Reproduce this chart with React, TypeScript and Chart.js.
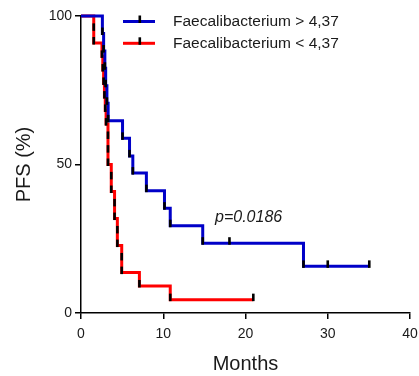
import React, { useEffect, useRef } from "react";
import { Chart, registerables } from "chart.js";

Chart.register(...registerables);

// Kaplan-Meier step data (months, PFS %)
const blueLabel = "Faecalibacterium > 4,37";
const blueTimes = [0, 2.6, 2.75, 2.9, 3.0, 3.15, 3.3, 5.05, 5.9, 6.3, 7.95, 10.15, 10.85, 14.8, 18.05, 27.05, 30.0, 35.05];
const blueSurv = [100, 94.1, 88.2, 82.4, 76.5, 70.6, 64.7, 58.8, 52.9, 47.1, 41.2, 35.3, 29.4, 23.5, 23.5, 15.7, 15.7, 15.7];

const redLabel = "Faecalibacterium < 4,37";
const redTimes = [0, 1.55, 1.55, 2.55, 2.65, 2.75, 2.85, 2.95, 3.05, 3.28, 3.28, 3.28, 3.68, 3.68, 4.08, 4.08, 4.42, 4.42, 4.95, 4.95, 7.1, 10.85, 20.95];
const redSurv = [100, 95.5, 90.9, 86.4, 81.8, 77.3, 72.7, 68.2, 63.6, 59.1, 54.5, 50.0, 45.5, 40.9, 36.4, 31.8, 27.3, 22.7, 18.2, 13.6, 9.1, 4.5, 4.5];

const xTicks = [0, 10, 20, 30, 40];
const yTicks = [0, 50, 100];
const pValueText = "p=0.0186";
const xTitle = "Months";
const yTitle = "PFS (%)";

const BLUE = "#0000c8";
const RED = "#ff0000";
const TEXT = "#1a1a1a";
const FONT = "'Liberation Sans', Arial, sans-serif";

const toPoints = (t: number[], s: number[]) => t.map((x, i) => ({ x, y: s[i] }));

const overlayPlugin = {
  id: "kmOverlay",
  afterDatasetsDraw(chart: any) {
    const ctx = chart.ctx;
    ctx.save();
    // tick marks at each event/censor point
    ctx.fillStyle = "#000";
    chart.data.datasets.forEach((_: any, di: number) => {
      const meta = chart.getDatasetMeta(di);
      meta.data.forEach((pt: any, i: number) => {
        if (i === 0) return;
        ctx.fillRect(pt.x - 1.3, pt.y - 6, 2.6, 7.5);
      });
    });
    // legend
    const items = [
      { label: blueLabel, color: BLUE, y: 21.5 },
      { label: redLabel, color: RED, y: 43.3 },
    ];
    items.forEach((it) => {
      ctx.strokeStyle = it.color;
      ctx.lineWidth = 3;
      ctx.beginPath();
      ctx.moveTo(123, it.y);
      ctx.lineTo(155, it.y);
      ctx.stroke();
      ctx.fillStyle = "#000";
      ctx.fillRect(138.5, it.y - 6, 2.6, 7.5);
      ctx.fillStyle = TEXT;
      ctx.font = `15.5px ${FONT}`;
      ctx.textBaseline = "middle";
      ctx.textAlign = "left";
      ctx.fillText(it.label, 173, it.y + 0.3);
    });
    // p-value
    ctx.font = `italic 16px ${FONT}`;
    ctx.fillStyle = TEXT;
    ctx.textBaseline = "middle";
    ctx.fillText(pValueText, 215, 218);
    ctx.restore();
  },
};

export default function App() {
  const ref = useRef<HTMLCanvasElement | null>(null);
  useEffect(() => {
    if (!ref.current) return;
    const chart = new Chart(ref.current, {
      type: "line",
      data: {
        datasets: [
          {
            label: blueLabel,
            data: toPoints(blueTimes, blueSurv),
            borderColor: BLUE,
            borderWidth: 3,
            stepped: "before",
            pointRadius: 0,
            fill: false,
            clip: false as any,
          },
          {
            label: redLabel,
            data: toPoints(redTimes, redSurv),
            borderColor: RED,
            borderWidth: 3,
            stepped: "before",
            pointRadius: 0,
            fill: false,
            clip: false as any,
          },
        ],
      },
      options: {
        animation: false,
        responsive: true,
        maintainAspectRatio: false,
        layout: { padding: { left: 0, right: 9, top: 16, bottom: 0 } },
        plugins: { legend: { display: false }, tooltip: { enabled: false } },
        scales: {
          x: {
            type: "linear",
            min: 0,
            max: 40,
            afterBuildTicks: (s: any) => {
              s.ticks = xTicks.map((v) => ({ value: v }));
            },
            afterFit: (s: any) => {
              s.height = 63;
              s.paddingLeft = 0;
              s.paddingRight = 0;
            },
            grid: { drawOnChartArea: false, drawTicks: true, tickLength: 6, color: "#000", lineWidth: 1.5 },
            border: { display: true, color: "#000", width: 1.5 },
            ticks: { color: TEXT, font: { family: FONT, size: 14 }, padding: 7, maxRotation: 0 },
            title: {
              display: true,
              text: xTitle,
              color: TEXT,
              font: { family: FONT, size: 20, lineHeight: 1 },
              padding: { top: 0, bottom: 2 },
            },
          },
          y: {
            type: "linear",
            min: 0,
            max: 100,
            afterBuildTicks: (s: any) => {
              s.ticks = yTicks.map((v) => ({ value: v }));
            },
            afterFit: (s: any) => {
              s.width = 81;
              s.paddingTop = 0;
              s.paddingBottom = 0;
            },
            grid: { drawOnChartArea: false, drawTicks: true, tickLength: 6, color: "#000", lineWidth: 1.5 },
            border: { display: true, color: "#000", width: 1.5 },
            ticks: { color: TEXT, font: { family: FONT, size: 14 }, padding: 3 },
            title: {
              display: true,
              text: yTitle,
              color: TEXT,
              font: { family: FONT, size: 20, lineHeight: 1 },
              padding: { top: 14, bottom: 0 },
            },
          },
        },
      },
      plugins: [overlayPlugin],
    });
    return () => chart.destroy();
  }, []);
  return (
    <div style={{ position: "fixed", left: 0, top: 0, width: 419, height: 376, background: "#fff" }}>
      <canvas ref={ref} />
    </div>
  );
}
